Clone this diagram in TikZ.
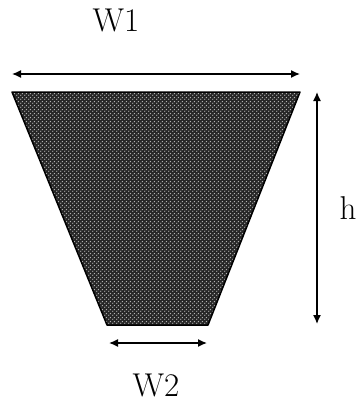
\documentclass[tikz,border=0pt]{standalone}
\usetikzlibrary{arrows.meta,patterns}
\pgfdeclarepatternformonly{coarsedots}{\pgfpointorigin}{\pgfpoint{4pt}{4pt}}{\pgfpoint{4pt}{4pt}}{%
  \pgfpathcircle{\pgfpoint{1pt}{1pt}}{0.85pt}%
  \pgfpathcircle{\pgfpoint{3pt}{3pt}}{0.85pt}%
  \pgfusepath{fill}}
\begin{document}
\begin{tikzpicture}[x=1pt,y=-1pt,
  dim/.style={line width=1.4pt,{Latex[length=9pt,width=8pt]}-{Latex[length=9pt,width=8pt]}},
  lbl/.style={font=\fontsize{33}{37}\selectfont,inner sep=0pt}]
\useasboundingbox (0,0) rectangle (360,404);
% trapezoid corners
\coordinate (tl) at (12,92);
\coordinate (tr) at (300,92);
\coordinate (br) at (208,325);
\coordinate (bl) at (107,325);
\fill[black!85] (tl) -- (tr) -- (br) -- (bl) -- cycle;
\fill[pattern=coarsedots,pattern color=white!70!black] (tl) -- (tr) -- (br) -- (bl) -- cycle;
\draw[line width=1.5pt,line join=round] (tl) -- (tr) -- (br) -- (bl) -- cycle;
% dimension ends
\coordinate (w1a) at (12,74);
\coordinate (w1b) at (300,74);
\coordinate (ha) at (317,92);
\coordinate (hb) at (317,324);
\coordinate (w2a) at (109,343);
\coordinate (w2b) at (207,343);
\draw[dim] (w1a) -- (w1b);
\draw[dim] (ha) -- (hb);
\draw[dim] (w2a) -- (w2b);
% labels
\node[lbl] (W1) at (116,20) {W1};
\node[lbl] (h) at (348,208) {h};
\node[lbl] (W2) at (156,385) {W2};
\end{tikzpicture}
\end{document}
